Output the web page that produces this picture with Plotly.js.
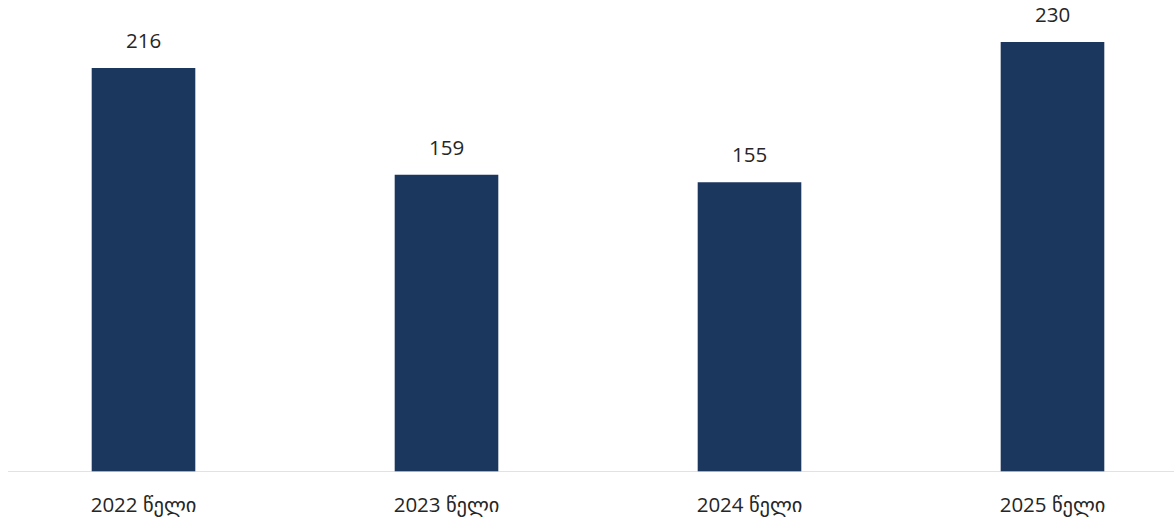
<!DOCTYPE html>
<html>
<head>
<meta charset="utf-8">
<script src="https://cdn.plot.ly/plotly-3.0.1.min.js"></script>
<style>html,body{margin:0;padding:0;background:#fff;}#chart{width:1174px;height:521px;}</style>
</head>
<body>
<div id="chart"></div>
<script>
const categories = ["2022 წელი", "2023 წელი", "2024 წელი", "2025 წელი"];
const values = [216, 159, 155, 230];
const labels = ["216", "159", "155", "230"];

const FONT = "Open Sans, DejaVu Sans, sans-serif";
const TXT = "#262626";

const trace = {
  type: "bar",
  x: categories,
  y: values,
  marker: {color: "#1c375e"},
  width: 0.342,
  hoverinfo: "none"
};

const annotations = categories.map((c, i) => ({
  x: c, y: values[i], xref: "x", yref: "y",
  text: labels[i], showarrow: false,
  yanchor: "bottom", yshift: 12,
  font: {family: FONT, size: 20.5, color: TXT}
}));

const layout = {
  width: 1174, height: 521,
  margin: {l: 0, r: 0, t: 0, b: 49},
  paper_bgcolor: "#fff", plot_bgcolor: "#fff",
  showlegend: false,
  xaxis: {
    type: "category",
    range: [-0.4736, 3.401],
    showgrid: false, zeroline: false, showline: false,
    ticks: "", ticklabelstandoff: 18,
    tickfont: {family: FONT, size: 20.5, color: TXT}
  },
  yaxis: {
    range: [0, 252.4],
    visible: false, showgrid: false, zeroline: false
  },
  shapes: [{
    type: "line", xref: "paper", yref: "y",
    x0: 8/1174, x1: 1, y0: 0, y1: 0,
    line: {color: "#d9d9d9", width: 1.5}
  }],
  annotations: annotations
};

Plotly.newPlot("chart", [trace], layout, {displayModeBar: false, staticPlot: true});
</script>
</body>
</html>
